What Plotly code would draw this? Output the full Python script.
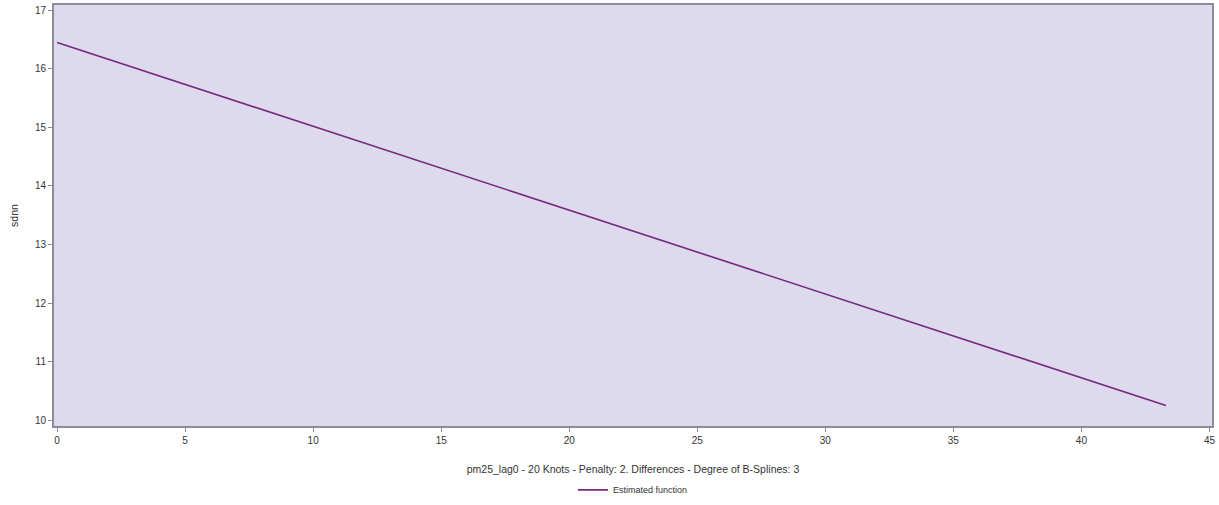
import plotly.graph_objects as go

# Estimated smooth function of pm25_lag0 on sdnn
pm25_lag0 = [0.0, 10.0, 20.0, 30.0, 43.3]
sdnn_est = [16.45, 15.02, 13.59, 12.16, 10.25]

x_ticks = [0, 5, 10, 15, 20, 25, 30, 35, 40, 45]
y_ticks = [10, 11, 12, 13, 14, 15, 16, 17]

font_family = "Liberation Sans, Arial, sans-serif"

fig = go.Figure()
fig.add_trace(go.Scatter(
    x=pm25_lag0, y=sdnn_est, mode="lines",
    name="Estimated function",
    line=dict(color="#76287f", width=1.6),
))

fig.update_layout(
    width=1219, height=505,
    margin=dict(l=54, r=7, t=5, b=79, autoexpand=False),
    paper_bgcolor="white",
    plot_bgcolor="#dcdaec",
    font=dict(family=font_family, size=10, color="#333333"),
    showlegend=True,
    legend=dict(
        orientation="h", x=0.5, xanchor="center",
        yref="container", y=0.03, yanchor="middle",
        font=dict(size=9, color="#333333"), bgcolor="rgba(0,0,0,0)",
    ),
)

axis_common = dict(
    showgrid=False, zeroline=False, automargin=False,
    showline=True, linecolor="#8c8c98", linewidth=2, mirror=True,
    ticks="outside", ticklen=4, tickcolor="#8c8c98",
    tickfont=dict(size=10, color="#333333"),
)

fig.update_xaxes(
    range=[-0.12, 45.1], tickvals=x_ticks,
    title=dict(text="pm25_lag0 - 20 Knots - Penalty: 2. Differences - Degree of B-Splines: 3",
               font=dict(size=10.5, color="#333333"), standoff=22),
    **axis_common,
)
fig.update_yaxes(
    range=[9.9, 17.09], tickvals=y_ticks,
    title=dict(text="sdnn", font=dict(size=10.5, color="#333333"), standoff=14),
    **axis_common,
)

fig.write_html("out.html")
